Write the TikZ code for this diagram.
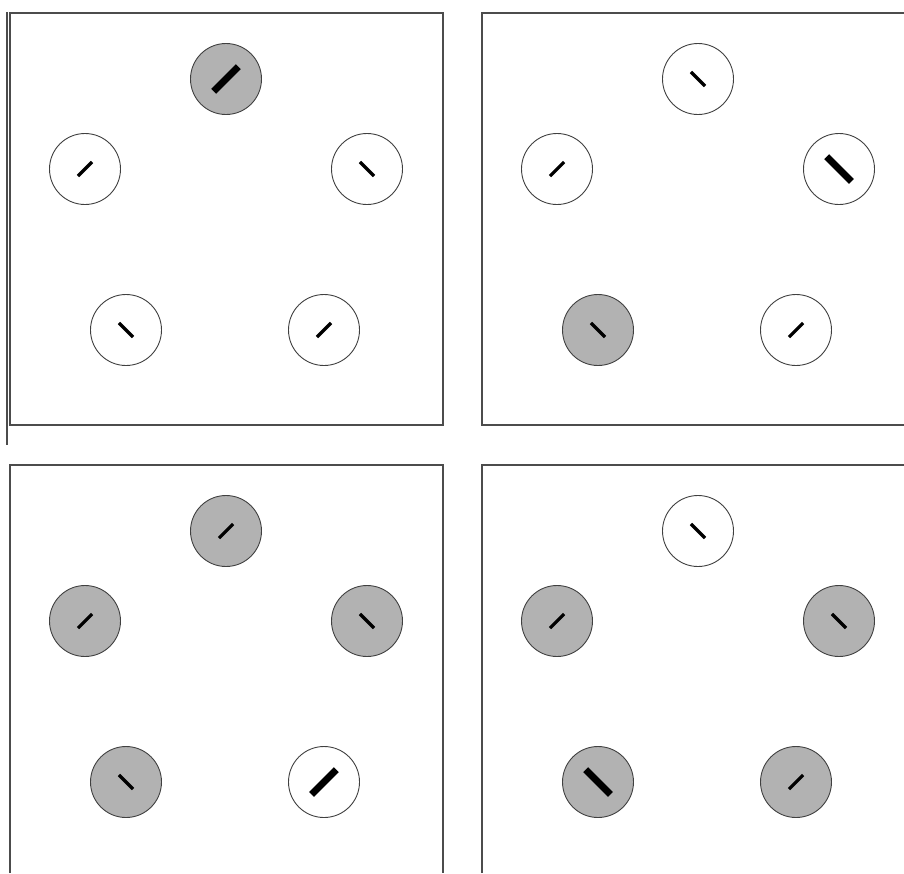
\documentclass[tikz,border=0pt]{standalone}
\usepackage{tikz}

\tikzset{
  frame/.style={draw=black!70, line width=1.3pt},
  dial/.style={circle, draw=black!75, line width=0.9pt, fill=white, minimum size=71pt, inner sep=0pt},
  dialon/.style={dial, fill=black!30},
  tick/.style={rectangle, fill=black, inner sep=0pt, minimum width=20pt, minimum height=3.2pt},
  bigtick/.style={tick, minimum width=35pt, minimum height=7pt}
}

\begin{document}
\begin{tikzpicture}[x=1pt,y=-1pt]
\useasboundingbox (0,0) rectangle (904,873);
% frames
\draw[frame] (10,13) rectangle (443,425);
\draw[frame] (7,12) -- (7,445);
\draw[frame] (904,13) -- (482,13) -- (482,425) -- (904,425);
\draw[frame] (10,873) -- (10,465) -- (443,465) -- (443,873);
\draw[frame] (482,873) -- (482,465) -- (904,465);

% panel 1
\node[dialon] (a1) at (226,79) {};
\node[dial] (a2) at (85,169) {};
\node[dial] (a3) at (367,169) {};
\node[dial] (a4) at (126,330) {};
\node[dial] (a5) at (324,330) {};
\node[bigtick, rotate=45] (a1t) at (a1) {};
\node[tick, rotate=45] (a2t) at (a2) {};
\node[tick, rotate=-45] (a3t) at (a3) {};
\node[tick, rotate=-45] (a4t) at (a4) {};
\node[tick, rotate=45] (a5t) at (a5) {};

% panel 2
\begin{scope}[shift={(472,0)}]
\node[dial] (b1) at (226,79) {};
\node[dial] (b2) at (85,169) {};
\node[dial] (b3) at (367,169) {};
\node[dialon] (b4) at (126,330) {};
\node[dial] (b5) at (324,330) {};
\node[tick, rotate=-45] (b1t) at (b1) {};
\node[tick, rotate=45] (b2t) at (b2) {};
\node[bigtick, rotate=-45] (b3t) at (b3) {};
\node[tick, rotate=-45] (b4t) at (b4) {};
\node[tick, rotate=45] (b5t) at (b5) {};
\end{scope}

% panel 3
\begin{scope}[shift={(0,452)}]
\node[dialon] (c1) at (226,79) {};
\node[dialon] (c2) at (85,169) {};
\node[dialon] (c3) at (367,169) {};
\node[dialon] (c4) at (126,330) {};
\node[dial] (c5) at (324,330) {};
\node[tick, rotate=45] (c1t) at (c1) {};
\node[tick, rotate=45] (c2t) at (c2) {};
\node[tick, rotate=-45] (c3t) at (c3) {};
\node[tick, rotate=-45] (c4t) at (c4) {};
\node[bigtick, rotate=45] (c5t) at (c5) {};
\end{scope}

% panel 4
\begin{scope}[shift={(472,452)}]
\node[dial] (d1) at (226,79) {};
\node[dialon] (d2) at (85,169) {};
\node[dialon] (d3) at (367,169) {};
\node[dialon] (d4) at (126,330) {};
\node[dialon] (d5) at (324,330) {};
\node[tick, rotate=-45] (d1t) at (d1) {};
\node[tick, rotate=45] (d2t) at (d2) {};
\node[tick, rotate=-45] (d3t) at (d3) {};
\node[bigtick, rotate=-45] (d4t) at (d4) {};
\node[tick, rotate=45] (d5t) at (d5) {};
\end{scope}
\end{tikzpicture}
\end{document}
